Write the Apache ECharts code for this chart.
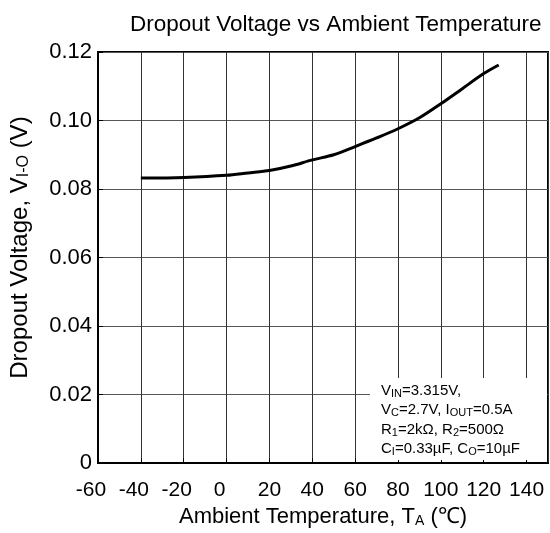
<!DOCTYPE html>
<html>
<head>
<meta charset="utf-8">
<script src="https://cdn.jsdelivr.net/npm/echarts@6/dist/echarts.min.js"></script>
<style>html,body{margin:0;padding:0;background:#fff}#c{width:550px;height:533px}</style>
</head>
<body>
<div id="c"></div>
<script>
var temps  = [-40, -20, 0, 10, 20, 30, 40, 50, 60, 70, 80, 90, 100, 110, 120, 127];
var values = [0.0832, 0.0834, 0.0840, 0.0847, 0.0854, 0.0867, 0.0885, 0.0900, 0.0924, 0.0949, 0.0976, 0.1008, 0.1049, 0.1093, 0.1137, 0.1162];
var xTickLabels = ['-60', '-40', '-20', '0', '20', '40', '60', '80', '100', '120', '140'];
var yTickLabels = ['0', '0.02', '0.04', '0.06', '0.08', '0.10', '0.12'];
var titleText = 'Dropout Voltage vs Ambient Temperature';
var conditionLines = [
  'V{s|IN}=3.315V,',
  'V{s|C}=2.7V, I{s|OUT}=0.5A',
  'R{s|1}=2kΩ, R{s|2}=500Ω',
  'C{s|I}=0.33µF, C{s|O}=10µF'
];

var FONT = 'Liberation Sans, Arial, sans-serif';
var chart = echarts.init(document.getElementById('c'), null, {renderer: 'canvas'});
var points = temps.map(function (t, i) { return [t, values[i]]; });

chart.setOption({
  animation: false,
  backgroundColor: '#fff',
  title: {
    text: titleText,
    left: 125, top: 8,
    textStyle: {fontFamily: FONT, fontSize: 22.5, fontWeight: 'normal', color: '#000'}
  },
  grid: {left: 97, right: 2, top: 52, bottom: 68, show: true, borderColor: '#000', borderWidth: 2, backgroundColor: 'transparent'},
  xAxis: {
    type: 'value', min: -60, max: 150, interval: 20,
    name: 'Ambient Temperature, T{s|A} (℃)',
    nameLocation: 'middle', nameGap: 35,
    nameTextStyle: {fontFamily: FONT, fontSize: 22, color: '#000',
      rich: {s: {fontFamily: FONT, fontSize: 14, color: '#000', padding: [8, 0, 0, 0]}}},
    axisLine: {show: true, onZero: false, lineStyle: {color: '#000', width: 2}},
    axisTick: {show: true, inside: true, length: 5, lineStyle: {color: '#000'}},
    splitLine: {show: true, lineStyle: {color: '#333', width: 1}},
    axisLabel: {
      fontFamily: FONT, fontSize: 21, color: '#000', margin: 17,
      showMaxLabel: false,
      formatter: function (v) {
        var idx = Math.round((v + 60) / 20);
        var s = xTickLabels[idx];
        if (s === undefined) return '';
        return v <= 0 ? '{n|' + s + '}' : s;
      },
      rich: {n: {fontFamily: FONT, fontSize: 21, color: '#000', padding: [0, 14, 0, 0]}}
    }
  },
  yAxis: {
    type: 'value', min: 0, max: 0.12, interval: 0.02,
    name: 'Dropout Voltage, V{s|I-O} (V)',
    nameLocation: 'middle', nameGap: 66,
    nameTextStyle: {fontFamily: FONT, fontSize: 24, color: '#000', padding: [0, 0, 0, 20],
      rich: {s: {fontFamily: FONT, fontSize: 16, color: '#000', padding: [8, 0, 0, 0]}}},
    axisLine: {show: true, onZero: false, lineStyle: {color: '#000', width: 2}},
    axisTick: {show: true, inside: true, length: 5, lineStyle: {color: '#000'}},
    splitLine: {show: true, lineStyle: {color: '#555', width: 1}},
    axisLabel: {
      fontFamily: FONT, fontSize: 22, color: '#000', margin: 6,
      formatter: function (v) { return yTickLabels[Math.round(v / 0.02)]; }
    }
  },
  graphic: [
    {type: 'rect', left: 370, top: 378, z: 50, shape: {width: 177, height: 82}, style: {fill: '#fff'}},
    {type: 'text', left: 381, top: 381, z: 51,
      style: {
        text: conditionLines.join('\n'),
        font: '15px ' + FONT, fill: '#000', lineHeight: 19.5,
        rich: {s: {fontSize: 11, fontFamily: FONT, fill: '#000', padding: [6, 0, 0, 0]}}
      }}
  ],
  series: [{
    type: 'line', data: points, smooth: 0.3, symbol: 'none',
    lineStyle: {color: '#000', width: 3}, z: 10
  }]
});
</script>
</body>
</html>
